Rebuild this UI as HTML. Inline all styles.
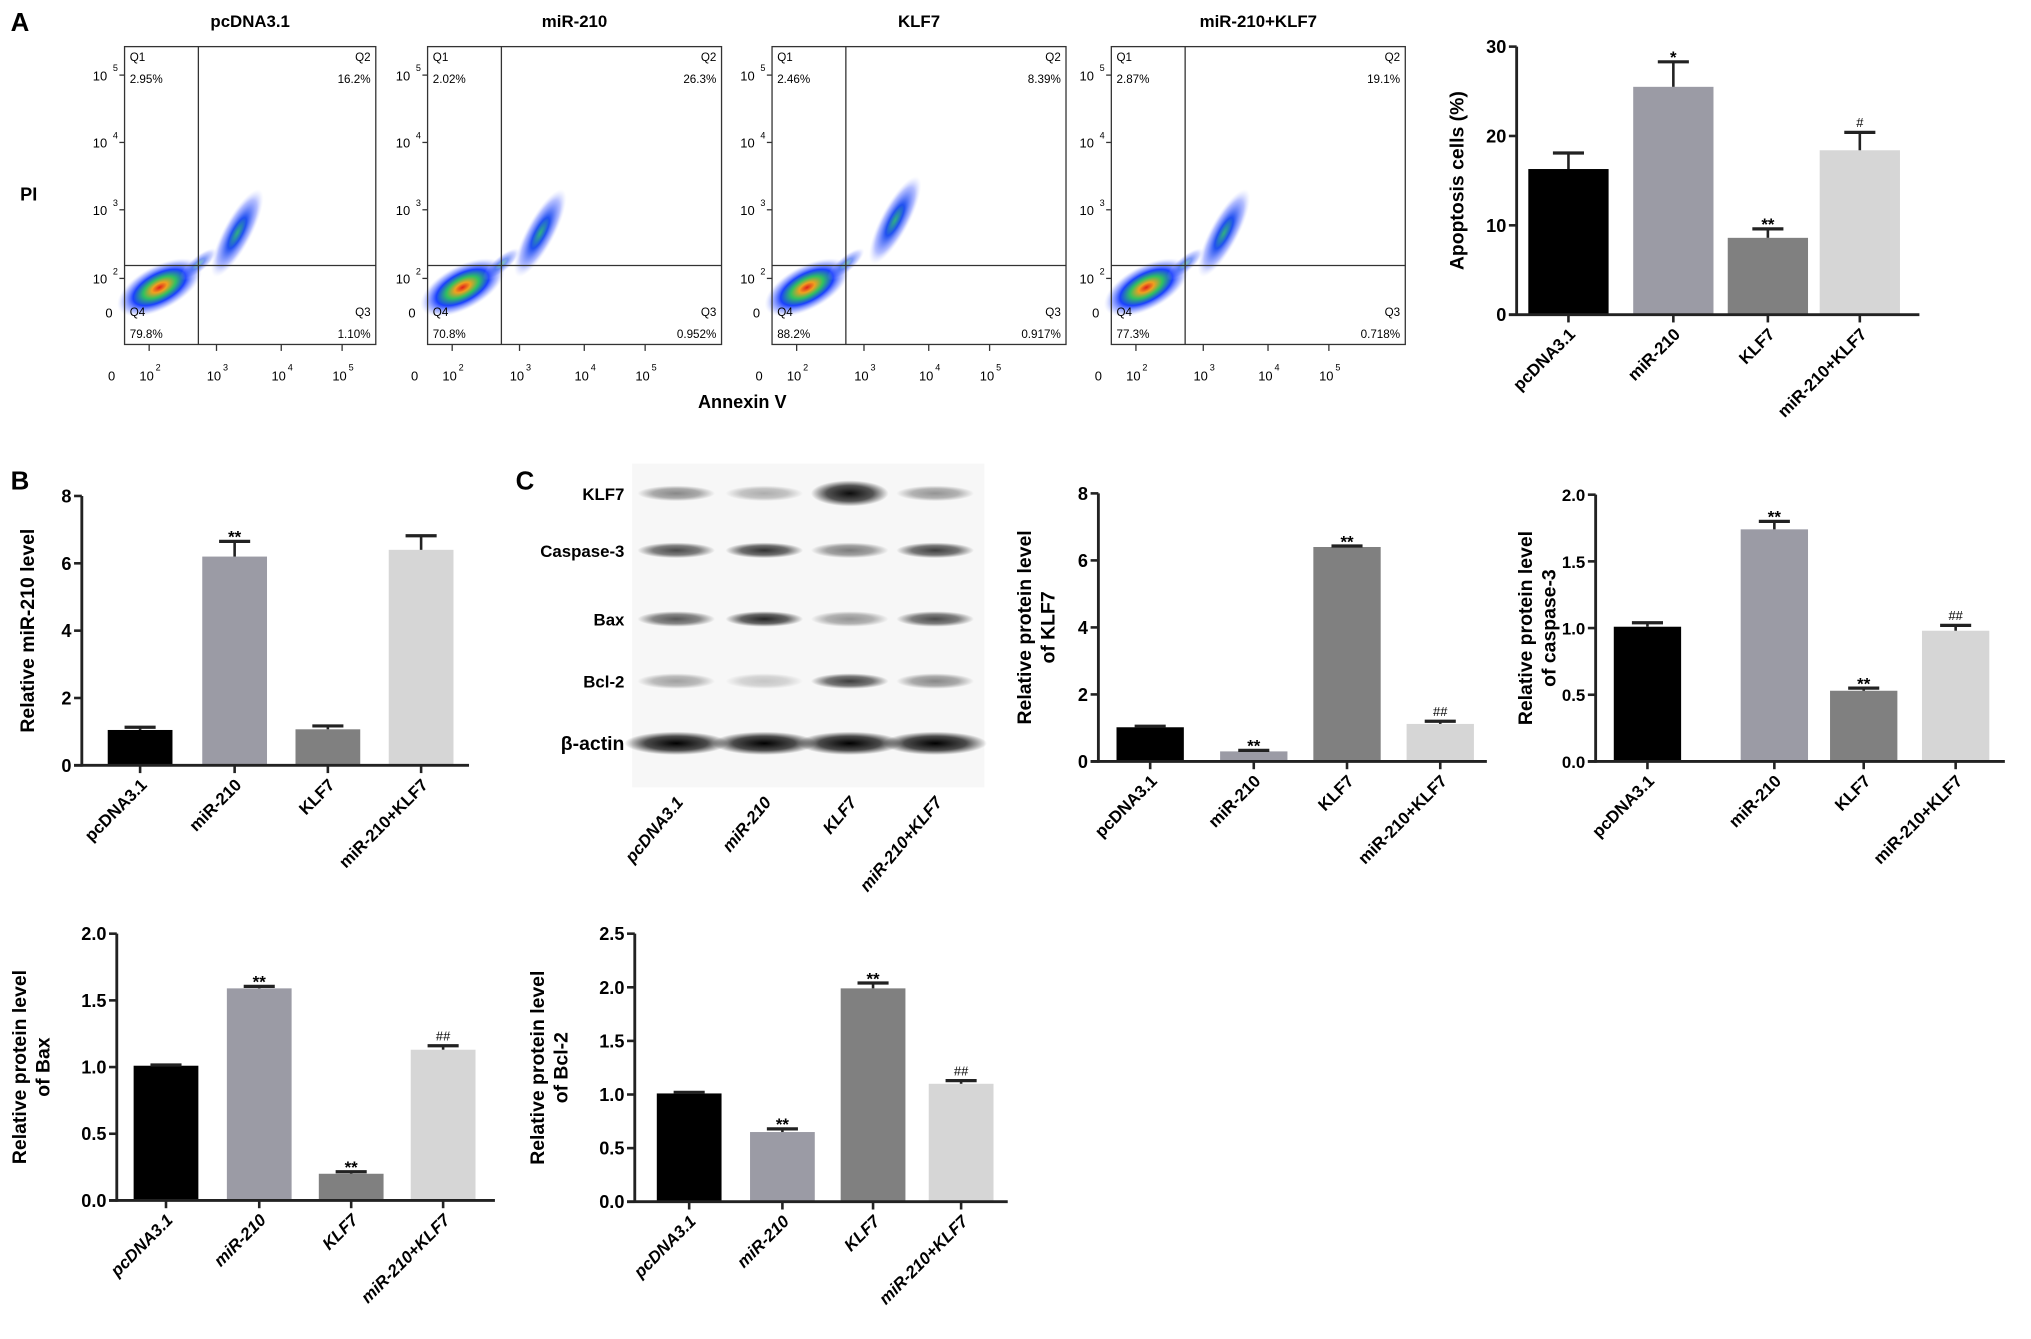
<!DOCTYPE html>
<html><head><meta charset="utf-8"><style>
html,body{margin:0;padding:0;background:#fff;}
svg{display:block;font-family:"Liberation Sans",sans-serif;font-weight:bold;}
</style></head><body>
<svg id="fig" width="2031" height="1339" viewBox="0 0 1568 1034" xmlns="http://www.w3.org/2000/svg">
<defs>
<radialGradient id="dens" cx="50%" cy="50%" r="50%">
<stop offset="0" stop-color="#e0201a"/><stop offset="0.18" stop-color="#f0a020"/><stop offset="0.38" stop-color="#30c060"/><stop offset="0.62" stop-color="#1a40ff"/><stop offset="0.85" stop-color="#6a80ff" stop-opacity="0.45"/><stop offset="1" stop-color="#c0c8ff" stop-opacity="0"/>
</radialGradient>
<radialGradient id="dens2" cx="50%" cy="50%" r="50%">
<stop offset="0" stop-color="#30b080"/><stop offset="0.35" stop-color="#2050f0"/><stop offset="0.75" stop-color="#5a70ff" stop-opacity="0.45"/><stop offset="1" stop-color="#c0c8ff" stop-opacity="0"/>
</radialGradient>
<radialGradient id="band" cx="50%" cy="50%" r="50%">
<stop offset="0" stop-color="#000" stop-opacity="1"/><stop offset="0.6" stop-color="#000" stop-opacity="0.7"/><stop offset="1" stop-color="#000" stop-opacity="0"/>
</radialGradient>
</defs>
<text x="8" y="24" font-size="20">A</text>
<text x="8" y="378" font-size="20">B</text>
<text x="398" y="378" font-size="20">C</text>
<g id="flow"></g>
<g id="blot"></g>
<g id="charts"></g>
</svg>
<script>
const NS="http://www.w3.org/2000/svg";
function el(tag,attrs,parent,text){const e=document.createElementNS(NS,tag);for(const k in attrs)e.setAttribute(k,attrs[k]);if(text!==undefined)e.textContent=text;parent.appendChild(e);return e;}

// ---------- Flow cytometry data ----------
const flowTitles=["pcDNA3.1","miR-210","KLF7","miR-210+KLF7"];
const flowQ1=["2.95%","2.02%","2.46%","2.87%"];
const flowQ2=["16.2%","26.3%","8.39%","19.1%"];
const flowQ3=["1.10%","0.952%","0.917%","0.718%"];
const flowQ4=["79.8%","70.8%","88.2%","77.3%"];
const flowX=[96,330,596,858];
const flowG=document.getElementById('flow');
flowX.forEach((x0,i)=>{
  const g=el('g',{},flowG);
  
  
  const w=(i===0)?194:227, y0=36, h=230;
  const t=el('text',{x:x0+w/2,y:21,'text-anchor':'middle','font-size':13},g,flowTitles[i]);
  
  
  const cx=x0+27, cy=222;
  el('ellipse',{cx:cx,cy:cy,rx:36,ry:17,fill:'url(#dens)',transform:`rotate(-28 ${cx} ${cy})`},g);
  el('ellipse',{cx:cx+30,cy:cy-18,rx:18,ry:6,fill:'url(#dens2)',opacity:0.6,transform:`rotate(-40 ${cx+30} ${cy-18})`},g);
  const c2x=x0+87+(i===2?8:0), c2y=(i===2?170:180);
  el('ellipse',{cx:c2x,cy:c2y,rx:38,ry:11,fill:'url(#dens2)',transform:`rotate(-62 ${c2x} ${c2y})`},g);
  el('rect',{x:x0,y:y0,width:w,height:h,fill:'none',stroke:'#333','stroke-width':1},g);
  const qx=x0+57, qy=205;
  el('line',{x1:qx,y1:y0,x2:qx,y2:y0+h,stroke:'#333','stroke-width':1},g);
  el('line',{x1:x0,y1:qy,x2:x0+w,y2:qy,stroke:'#333','stroke-width':1},g);
  const fs=9;
  el('text',{x:x0+4,y:y0+11,'font-size':fs,'font-weight':'normal'},g,'Q1');
  el('text',{x:x0+4,y:y0+28,'font-size':fs,'font-weight':'normal'},g,flowQ1[i]);
  el('text',{x:x0+w-4,y:y0+11,'font-size':fs,'font-weight':'normal','text-anchor':'end'},g,'Q2');
  el('text',{x:x0+w-4,y:y0+28,'font-size':fs,'font-weight':'normal','text-anchor':'end'},g,flowQ2[i]);
  el('text',{x:x0+w-4,y:y0+208,'font-size':fs,'font-weight':'normal','text-anchor':'end'},g,'Q3');
  el('text',{x:x0+w-4,y:y0+225,'font-size':fs,'font-weight':'normal','text-anchor':'end'},g,flowQ3[i]);
  el('text',{x:x0+4,y:y0+208,'font-size':fs,'font-weight':'normal'},g,'Q4');
  el('text',{x:x0+4,y:y0+225,'font-size':fs,'font-weight':'normal'},g,flowQ4[i]);
  [[58,'5'],[110,'4'],[162,'3'],[215,'2']].forEach(([yy,e])=>{
    el('text',{x:x0-19,y:yy+4,'font-size':10,'font-weight':'normal','text-anchor':'middle'},g,'10');
    el('text',{x:x0-9,y:yy-3,'font-size':7,'font-weight':'normal'},g,e);
    el('line',{x1:x0-4,y1:yy,x2:x0,y2:yy,stroke:'#333'},g);
  });
  el('text',{x:x0-12,y:245,'font-size':10,'font-weight':'normal','text-anchor':'middle'},g,'0');
  const xr=[[-10,null],[17,'2'],[69,'3'],[119,'4'],[166,'5']];
  xr.forEach(([dx,e])=>{
    if(e===null){el('text',{x:x0+dx,y:294,'font-size':10,'font-weight':'normal','text-anchor':'middle'},g,'0');}
    else{el('text',{x:x0+dx,y:294,'font-size':10,'font-weight':'normal','text-anchor':'middle'},g,'10');
      el('text',{x:x0+dx+7,y:286,'font-size':7,'font-weight':'normal'},g,e);
      el('line',{x1:x0+dx+2,y1:y0+h,x2:x0+dx+2,y2:y0+h+5,stroke:'#333'},g);}
  });
});
el('text',{x:573,y:315,'font-size':14,'text-anchor':'middle'},flowG,'Annexin V');
el('text',{x:22,y:155,'font-size':14,'text-anchor':'middle'},flowG,'PI');

// ---------- Western blot ----------
const blotRows=["KLF7","Caspase-3","Bax","Bcl-2","β-actin"];
const blotY=[381,425,478,526,574];
const blotLaneX=[522,590,656,722];
const blotIntensity=[[0.45,0.3,0.95,0.4],[0.7,0.8,0.5,0.75],[0.65,0.85,0.4,0.7],[0.35,0.2,0.75,0.45],[1,1,1,1]];
const blotG=document.getElementById('blot');
el('rect',{x:488,y:358,width:272,height:250,fill:'#f7f7f7'},blotG);
blotRows.forEach((r,ri)=>{
  const t=el('text',{x:482,y:blotY[ri]+5,'text-anchor':'end','font-size':ri===4?15:13},blotG,r);
  
  
  blotLaneX.forEach((lx,li)=>{
    const b=el('ellipse',{cx:lx,cy:blotY[ri],rx:ri===4?40:30,ry:ri===4?9:(ri===0&&li===2?10:6),fill:'url(#band)',opacity:blotIntensity[ri][li]},blotG);
    
    
  });
});
const blotCats=["pcDNA3.1","miR-210","KLF7","miR-210+KLF7"];
blotCats.forEach((c,i)=>{
  el('text',{x:blotLaneX[i]+6,y:620,'text-anchor':'end','font-size':13,'font-style':'italic',transform:`rotate(-50 ${blotLaneX[i]+6} 620)`},blotG,c);
});

// ---------- Bar chart data ----------
const cats=["pcDNA3.1","miR-210","KLF7","miR-210+KLF7"];
const colors=["#000000","#9b9ba5","#808080","#d6d6d6"];
const apoVals=[16.3,25.5,8.6,18.4];
const apoErrs=[1.8,2.8,1.0,2.0];
const apoMarks=["","*","**","#"];
const apoTicks=[0,10,20,30];
const mirVals=[1.05,6.2,1.07,6.4];
const mirErrs=[0.08,0.45,0.1,0.42];
const mirMarks=["","**","",""];
const mirTicks=[0,2,4,6,8];
const klfVals=[1.02,0.3,6.4,1.12];
const klfErrs=[0.03,0.03,0.03,0.08];
const klfMarks=["","**","**","##"];
const klfTicks=[0,2,4,6,8];
const casVals=[1.01,1.74,0.53,0.98];
const casErrs=[0.03,0.06,0.02,0.04];
const casMarks=["","**","**","##"];
const casTicks=[0.0,0.5,1.0,1.5,2.0];
const baxVals=[1.01,1.59,0.2,1.13];
const baxErrs=[0.005,0.015,0.015,0.03];
const baxMarks=["","**","**","##"];
const baxTicks=[0.0,0.5,1.0,1.5,2.0];
const bclVals=[1.01,0.65,1.99,1.1];
const bclErrs=[0.01,0.03,0.05,0.03];
const bclMarks=["","**","**","##"];
const bclTicks=[0.0,0.5,1.0,1.5,2.0,2.5];

const chartsG=document.getElementById('charts');
function drawChart(name,ax,yTop,yBot,xEnd,centers,bw,vals,errs,marks,ticks,dec,titles,titleX,labelItalic,labelFs,fsTick){
  const g=el('g',{},chartsG);
  
  
  const ymax=ticks[ticks.length-1];
  const Y=v=>yBot-(v/ymax)*(yBot-yTop);
  vals.forEach((v,i)=>{
    const r=el('rect',{x:centers[i]-bw/2,y:Y(v),width:bw,height:yBot-Y(v),fill:colors[i]},g);
    
    
    const ye=Y(v+errs[i]);
    el('line',{x1:centers[i],y1:Y(v),x2:centers[i],y2:ye,stroke:'#222','stroke-width':2},g);
    el('line',{x1:centers[i]-12,y1:ye,x2:centers[i]+12,y2:ye,stroke:'#222','stroke-width':2.5},g);
    if(marks[i]){
      const m=el('text',{x:centers[i],y:ye-4+(marks[i][0]==='*'?5:0),'text-anchor':'middle','font-size':marks[i][0]==='*'?13:10,'font-weight':marks[i][0]==='*'?'bold':'normal'},g,marks[i]);
      
      
    }
    el('line',{x1:centers[i],y1:yBot,x2:centers[i],y2:yBot+6,stroke:'#222','stroke-width':2},g);
    const lx=centers[i]+6, ly=yBot+16;
    const t=el('text',{x:lx,y:ly,'text-anchor':'end','font-size':labelFs,'font-style':labelItalic?'italic':'normal',transform:`rotate(-45 ${lx} ${ly})`},g,cats[i]);
    
    
  });
  el('line',{x1:ax,y1:yTop,x2:ax,y2:yBot+1,stroke:'#222','stroke-width':2.2},g);
  el('line',{x1:ax-6,y1:yBot,x2:xEnd,y2:yBot,stroke:'#222','stroke-width':2.2},g);
  ticks.forEach(tv=>{
    el('line',{x1:ax-6,y1:Y(tv),x2:ax,y2:Y(tv),stroke:'#222','stroke-width':2},g);
    const t=el('text',{x:ax-8,y:Y(tv)+5,'text-anchor':'end','font-size':fsTick},g,tv.toFixed(dec));
    
    
  });
  const my=(yTop+yBot)/2;
  titles.forEach((tt,k)=>{
    const tx=titleX+k*18;
    const t=el('text',{x:tx,y:my,'text-anchor':'middle','font-size':15,transform:`rotate(-90 ${tx} ${my})`},g,tt);
    
    
  });
}
drawChart('apoptosis-chart',1171,36,243,1482,[1211,1292,1365,1436],62,apoVals,apoErrs,apoMarks,apoTicks,0,["Apoptosis cells (%)"],1130,false,13,14);
drawChart('mir210-chart',63,383,591,362,[108,181,253,325],50,mirVals,mirErrs,mirMarks,mirTicks,0,["Relative miR-210 level"],26,false,13,14);
drawChart('klf7-chart',848,381,588,1148,[888,968,1040,1112],52,klfVals,klfErrs,klfMarks,klfTicks,0,["Relative protein level","of KLF7"],796,false,13,14);
drawChart('caspase3-chart',1232,382,588,1548,[1272,1370,1439,1510],52,casVals,casErrs,casMarks,casTicks,1,["Relative protein level","of caspase-3"],1183,false,13,13);
drawChart('bax-chart',90,721,927,382,[128,200,271,342],50,baxVals,baxErrs,baxMarks,baxTicks,1,["Relative protein level","of Bax"],20,true,13,14);
drawChart('bcl2-chart',490,721,928,778,[532,604,674,742],50,bclVals,bclErrs,bclMarks,bclTicks,1,["Relative protein level","of Bcl-2"],420,true,13,14);
</script>
</body></html>
